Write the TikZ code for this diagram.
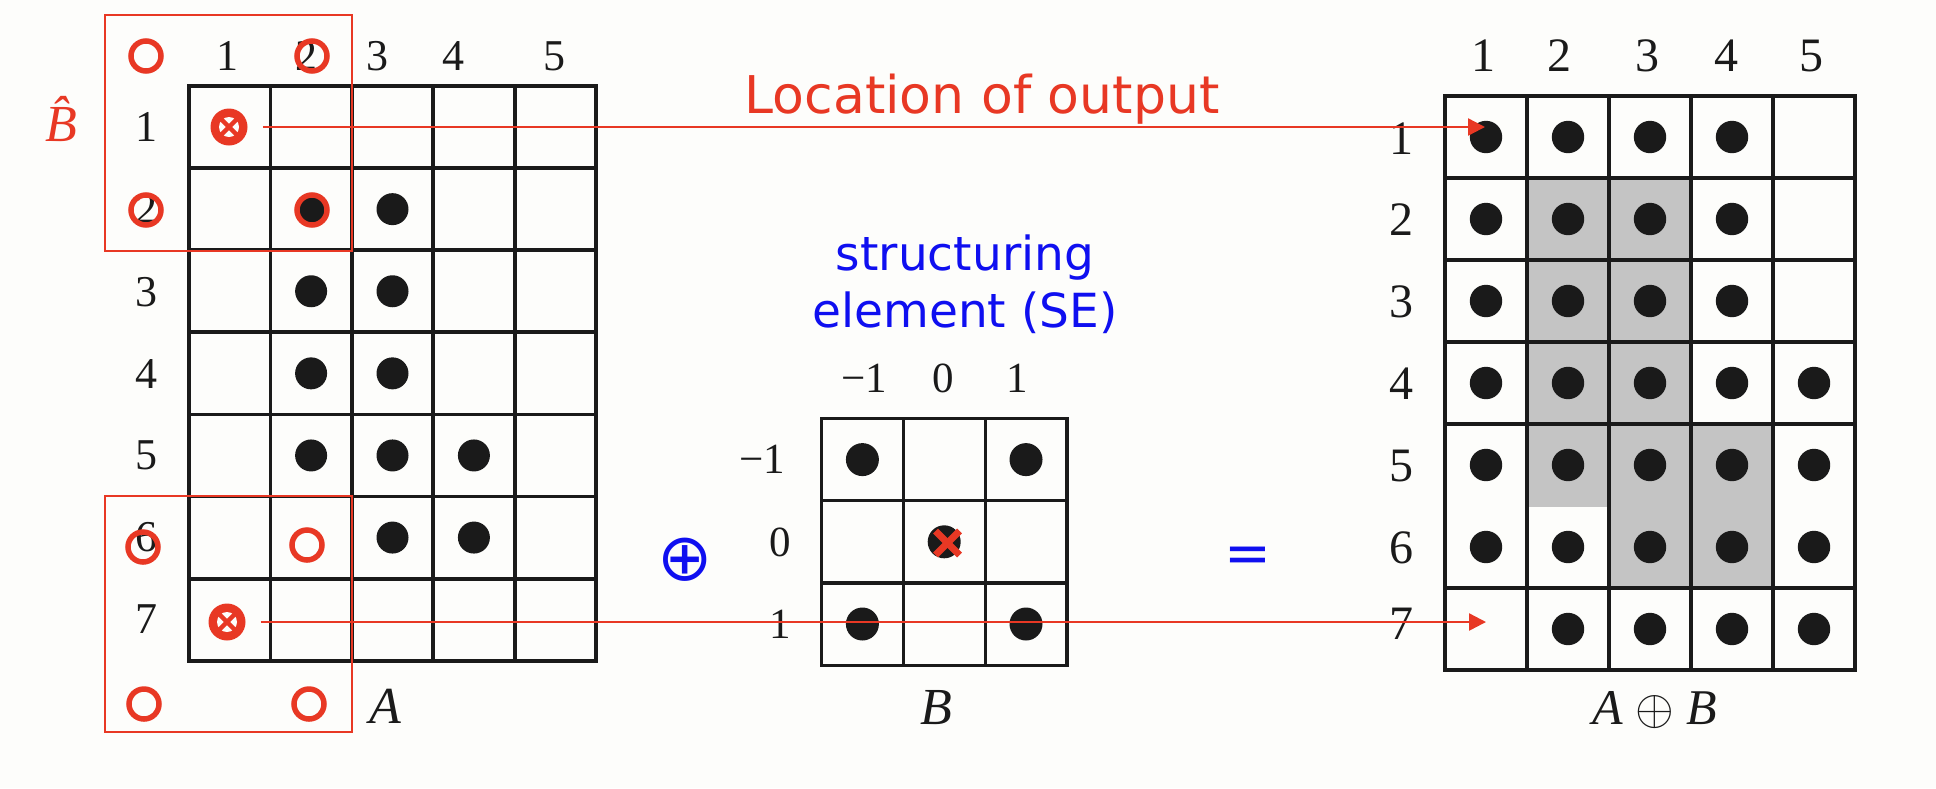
\documentclass[tikz,border=0pt]{standalone}
\usepackage{fontspec}
\setmainfont{Liberation Serif}
\newfontfamily\dvs{DejaVu Sans}
\usetikzlibrary{arrows.meta}
\definecolor{myred}{RGB}{232,56,36}
\definecolor{myblue}{RGB}{15,15,240}
\definecolor{dotc}{RGB}{26,26,26}
\definecolor{cellgray}{RGB}{196,196,196}
\definecolor{bgc}{RGB}{253,253,251}
\tikzset{
  dotA/.style={circle, fill=dotc, inner sep=0pt, minimum size=16pt},
  dotB/.style={circle, fill=dotc, inner sep=0pt, minimum size=16.5pt},
  dotC/.style={circle, fill=dotc, inner sep=0pt, minimum size=16.2pt},
  ring/.style={circle, draw=myred, line width=2.75pt, inner sep=0pt, minimum size=15pt},
  xcirc/.style={circle, fill=myred, inner sep=0pt, minimum size=18.5pt},
  numA/.style={font=\fontsize{22}{24}\selectfont, inner sep=0pt, text=dotc},
  numB/.style={font=\fontsize{21.5}{24}\selectfont, inner sep=0pt, text=dotc},
  numC/.style={font=\fontsize{24}{26}\selectfont, inner sep=0pt, text=dotc},
  letter/.style={font=\fontsize{26}{28}\selectfont\itshape, inner sep=0pt, text=dotc},
  gridA/.style={line width=1.9pt, draw=dotc, line cap=rect},
  gridB/.style={line width=1.6pt, draw=dotc, line cap=rect},
  gridC/.style={line width=1.7pt, draw=dotc, line cap=rect},
  redbox/.style={draw=myred, line width=1.1pt},
  redarrow/.style={draw=myred, line width=1.2pt, -{Triangle[length=8.5pt,width=8.5pt]}, shorten <=7.5pt},
  redlabel/.style={font=\dvs\fontsize{26}{30}\selectfont, text=myred, inner sep=0pt},
  bluelabel/.style={font=\dvs\fontsize{23.5}{28}\selectfont, text=myblue, inner sep=0pt},
  blueop/.style={font=\dvs\fontsize{33}{35}\selectfont, text=myblue, inner sep=0pt}
}
\begin{document}
\begin{tikzpicture}[x=0.5pt,y=-0.5pt]
\fill[bgc] (0,0) rectangle (1936,788);
\useasboundingbox (0,0) rectangle (1936,788);

% ---------------- Grid A ----------------
\foreach \i in {0,...,5} \draw[gridA] ({189+81.4*\i},86) -- ({189+81.4*\i},660.7);
\foreach \j in {0,...,7} \draw[gridA] (189,{86+82.1*\j}) -- (596,{86+82.1*\j});
\foreach \x/\t [count=\k] in {227/1,306/2,377/3,453/4,554/5}
  \node[numA] (acol\k) at (\x,56) {\t};
\foreach \y/\t [count=\k] in {127/1,209/2,292/3,374/4,455/5,537/6,619/7}
  \node[numA] (arow\k) at (146,\y) {\t};
\foreach \c/\r [count=\k] in {2/2,3/2,2/3,3/3,2/4,3/4,2/5,3/5,4/5,3/6,4/6}
  \node[dotA] (adot\k) at ({189+81.4*(\c-0.5)},{86+82.1*(\r-0.5)}) {};
\node[letter] (labA) at (385,706) {A};

% red boxes (reflected SE)
\draw[redbox] (105,15) rectangle (352,251);
\draw[redbox] (105,496) rectangle (352,732);
\node[ring] (r1) at (146,56) {};
\node[ring] (r2) at (312,56) {};
\node[ring] (r3) at (146,210) {};
\node[ring] (r4) at (312,210) {};
\node[ring] (r5) at (143,547) {};
\node[ring] (r6) at (307,545) {};
\node[ring] (r7) at (144,704) {};
\node[ring] (r8) at (309,704) {};
\node[letter, text=myred] (bhat) at (61,119) {B^^^^0302};

% crossed circles
\foreach \n/\x/\y in {xc1/229/127, xc2/227/622}{
  \node[xcirc] (\n) at (\x,\y) {};
  \fill[bgc] (\n.center) circle[radius=10];
  \draw[myred, line width=2.25pt] ([shift={(-9,-9)}]\n.center) -- ([shift={(9,9)}]\n.center);
  \draw[myred, line width=2.25pt] ([shift={(-9,9)}]\n.center) -- ([shift={(9,-9)}]\n.center);
}

% ---------------- Texts ----------------
\node[redlabel, anchor=base] (loc) at (982,113) {Location of output};
\node[bluelabel, anchor=base] (se1) at (965,270) {structuring};
\node[bluelabel, anchor=base] (se2) at (965,327) {element (SE)};
\node[blueop] (oplus) at (685,560) {⊕};
\node[blueop, font=\dvs\fontsize{28}{30}\selectfont] (eq) at (1248,560) {=};

% ---------------- Grid B ----------------
\foreach \i in {0,...,3} \draw[gridB] ({821.5+81.8*\i},418.5) -- ({821.5+81.8*\i},665.1);
\foreach \j in {0,...,3} \draw[gridB] (821.5,{418.5+82.2*\j}) -- (1067,{418.5+82.2*\j});
\node[numB] (bcol1) at (864,378) {−1};
\node[numB] (bcol2) at (943,378) {0};
\node[numB] (bcol3) at (1017,378) {1};
\node[numB] (brow1) at (762,459) {−1};
\node[numB] (brow2) at (780,542) {0};
\node[numB] (brow3) at (780,624) {1};
\foreach \c/\r [count=\k] in {1/1,3/1,2/2,1/3,3/3}
  \node[dotB] (bdot\k) at ({821.5+81.8*(\c-0.5)},{418.5+82.2*(\r-0.5)}) {};
\draw[myred, line width=3.5pt] (935.5,531) -- (959.5,555);
\draw[myred, line width=3.5pt] (935.5,555) -- (959.5,531);
\node[letter] (labB) at (936,708) {B};

% ---------------- Output grid ----------------
\fill[cellgray] (1527,178) rectangle (1691,424);
\fill[cellgray] (1527,424) rectangle (1609,507);
\fill[cellgray] (1609,424) rectangle (1773,588);
\foreach \i in {0,...,5} \draw[gridC] ({1445+82*\i},96) -- ({1445+82*\i},670);
\foreach \j in {0,1,2,3,4,6,7} \draw[gridC] (1445,{96+82*\j}) -- (1855,{96+82*\j});
\foreach \x/\t [count=\k] in {1483/1,1559/2,1647/3,1726/4,1811/5}
  \node[numC] (ccol\k) at (\x,56) {\t};
\foreach \y/\t [count=\k] in {139/1,220/2,302/3,384/4,466/5,548/6,624/7}
  \node[numC] (crow\k) at (1401,\y) {\t};
\foreach \c/\r [count=\k] in {1/1,2/1,3/1,4/1,1/2,2/2,3/2,4/2,1/3,2/3,3/3,4/3,
    1/4,2/4,3/4,4/4,5/4,1/5,2/5,3/5,4/5,5/5,1/6,2/6,3/6,4/6,5/6,2/7,3/7,4/7,5/7}
  \node[dotC] (cdot\k) at ({1445+82*(\c-0.5)},{96+82*(\r-0.5)}) {};
\node[font=\fontsize{25}{28}\selectfont, inner sep=0pt, text=dotc] (labAB) at (1655,710) {\textit{A} $\oplus$ \textit{B}};

% ---------------- Arrows ----------------
\coordinate (t1) at (1485,127);
\coordinate (t2) at (1486,622);
\draw[redarrow] (xc1) -- (t1);
\draw[redarrow] (xc2) -- (t2);
\end{tikzpicture}
\end{document}
